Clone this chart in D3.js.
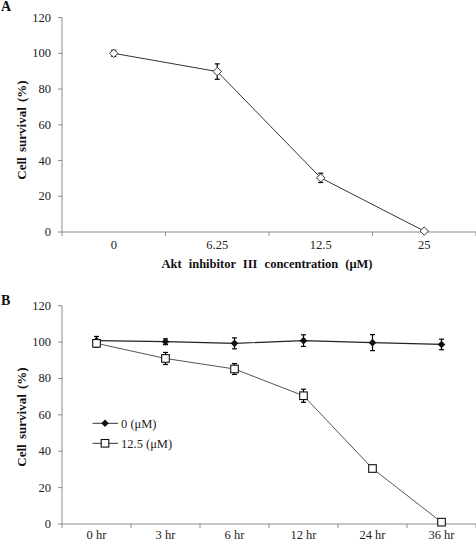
<!DOCTYPE html>
<html><head><meta charset="utf-8">
<script src="https://cdn.jsdelivr.net/npm/d3@7"></script>
<style>
html,body{margin:0;padding:0;background:#fff;}
svg{display:block;font-family:"Liberation Serif","Times New Roman",serif;}
</style></head>
<body><svg id="c" width="476" height="542"></svg>
<script>
// Panel A data
const concentrations = ["0", "6.25", "12.5", "25"];
const survivalA = [100, 89.8, 30.3, 0.5];
const errorA = [1.7, 4.3, 2.6, 0];
// Panel B data
const hours = ["0 hr", "3 hr", "6 hr", "12 hr", "24 hr", "36 hr"];
const control = [100.8, 100.2, 99.3, 100.8, 99.7, 98.7];
const controlErr = [2.3, 1.6, 3, 3.2, 4.4, 2.9];
const treated = [99.3, 91, 85.2, 70.5, 30.5, 1];
const treatedErr = [2, 3.3, 3, 3.6, 1.5, 0];
const yTicks = [0, 20, 40, 60, 80, 100, 120];
const legendLabels = ["0 (\u03bcM)", "12.5 (\u03bcM)"];

const svg = d3.select("#c");
const axisCol = "#8c8c8c", textCol = "#222";

// square diamond (equal width/height) symbol
function diamondPath(r) {
  const p = d3.path();
  p.moveTo(0, -r); p.lineTo(r, 0); p.lineTo(0, r); p.lineTo(-r, 0); p.closePath();
  return p.toString();
}

function drawAxes(g, x, y, cats, tickY) {
  const [x0, x1] = x.range();
  const [yb, yt] = y.range();
  g.append("line").attr("x1", x0).attr("x2", x0).attr("y1", yt).attr("y2", yb)
    .attr("stroke", axisCol).attr("stroke-width", 1);
  yTicks.forEach(t => {
    g.append("line").attr("x1", x0 - 4).attr("x2", x0).attr("y1", y(t)).attr("y2", y(t))
      .attr("stroke", axisCol);
    g.append("text").attr("x", x0 - 11).attr("y", y(t) + 4).attr("text-anchor", "end")
      .attr("font-size", 12.5).attr("fill", textCol).text(t);
  });
  g.append("line").attr("x1", x0).attr("x2", x1).attr("y1", yb).attr("y2", yb)
    .attr("stroke", axisCol);
  const bounds = cats.map(c => x(c)).concat([x1]);
  bounds.forEach(b => {
    g.append("line").attr("x1", b).attr("x2", b).attr("y1", yb).attr("y2", yb + 4)
      .attr("stroke", axisCol);
  });
  cats.forEach(c => {
    g.append("text").attr("x", x(c) + x.bandwidth() / 2).attr("y", tickY)
      .attr("text-anchor", "middle").attr("font-size", 12.5).attr("fill", textCol).text(c);
  });
}

function errorBars(g, x, y, cats, vals, errs) {
  cats.forEach((c, i) => {
    if (!errs[i]) return;
    const cx = x(c) + x.bandwidth() / 2;
    const t = y(vals[i] + errs[i]), b = y(vals[i] - errs[i]);
    g.append("line").attr("x1", cx).attr("x2", cx).attr("y1", t).attr("y2", b)
      .attr("stroke", "#000").attr("stroke-width", 1.2);
    [t, b].forEach(v => g.append("line").attr("x1", cx - 2.5).attr("x2", cx + 2.5)
      .attr("y1", v).attr("y2", v).attr("stroke", "#000").attr("stroke-width", 1.2));
  });
}

// ---------- Panel A ----------
const gA = svg.append("g");
const xA = d3.scaleBand().domain(concentrations).range([62, 476]).padding(0);
const yA = d3.scaleLinear().domain([0, 120]).range([232, 17.6]);
drawAxes(gA, xA, yA, concentrations, 249);
const cxA = c => xA(c) + xA.bandwidth() / 2;
gA.append("path")
  .datum(concentrations.map((c, i) => [cxA(c), yA(survivalA[i])]))
  .attr("d", d3.line()).attr("fill", "none").attr("stroke", "#333").attr("stroke-width", 1);
errorBars(gA, xA, yA, concentrations, survivalA, errorA);
concentrations.forEach((c, i) => {
  gA.append("path").attr("d", diamondPath(4.2))
    .attr("transform", `translate(${cxA(c)},${yA(survivalA[i])})`)
    .attr("fill", "#fff").attr("stroke", "#333").attr("stroke-width", 1);
});
gA.append("text").attr("transform", "translate(26,130) rotate(-90)")
  .attr("text-anchor", "middle").attr("font-size", 13).attr("font-weight", "bold")
  .attr("word-spacing", 2).attr("fill", "#111").text("Cell survival (%)");
gA.append("text").attr("x", 267).attr("y", 268).attr("text-anchor", "middle")
  .attr("font-size", 12.5).attr("font-weight", "bold").attr("word-spacing", 4)
  .attr("fill", "#111").text("Akt inhibitor III concentration (\u03bcM)");
svg.append("text").attr("x", 1).attr("y", 11).attr("font-size", 14)
  .attr("font-weight", "bold").attr("fill", "#111").text("A");

// ---------- Panel B ----------
const gB = svg.append("g");
const xB = d3.scaleBand().domain(hours).range([62, 476]).padding(0);
const yB = d3.scaleLinear().domain([0, 120]).range([524, 305.7]);
drawAxes(gB, xB, yB, hours, 539);
const cxB = c => xB(c) + xB.bandwidth() / 2;
gB.append("path")
  .datum(hours.map((c, i) => [cxB(c), yB(control[i])]))
  .attr("d", d3.line()).attr("fill", "none").attr("stroke", "#222").attr("stroke-width", 1.2);
gB.append("path")
  .datum(hours.map((c, i) => [cxB(c), yB(treated[i])]))
  .attr("d", d3.line()).attr("fill", "none").attr("stroke", "#555").attr("stroke-width", 1);
errorBars(gB, xB, yB, hours, control, controlErr);
errorBars(gB, xB, yB, hours, treated, treatedErr);
hours.forEach((c, i) => {
  gB.append("path").attr("d", diamondPath(3.8))
    .attr("transform", `translate(${cxB(c)},${yB(control[i])})`).attr("fill", "#111");
});
hours.forEach((c, i) => {
  gB.append("rect").attr("x", cxB(c) - 3.8).attr("y", yB(treated[i]) - 3.8)
    .attr("width", 7.6).attr("height", 7.6).attr("fill", "#fff")
    .attr("stroke", "#111").attr("stroke-width", 1.1);
});
// legend
const legY = [423.3, 443.3];
legY.forEach((ly, i) => {
  gB.append("line").attr("x1", 92.5).attr("x2", 118).attr("y1", ly).attr("y2", ly)
    .attr("stroke", "#333").attr("stroke-width", 1);
  if (i === 0) {
    gB.append("path").attr("d", diamondPath(3.8)).attr("transform", `translate(105,${ly})`)
      .attr("fill", "#111");
  } else {
    gB.append("rect").attr("x", 105 - 3.8).attr("y", ly - 3.8).attr("width", 7.6).attr("height", 7.6)
      .attr("fill", "#fff").attr("stroke", "#111").attr("stroke-width", 1.1);
  }
  gB.append("text").attr("x", 121).attr("y", ly + 4.5).attr("font-size", 12.5)
    .attr("fill", textCol).text(legendLabels[i]);
});
gB.append("text").attr("transform", "translate(26,417) rotate(-90)")
  .attr("text-anchor", "middle").attr("font-size", 13).attr("font-weight", "bold")
  .attr("word-spacing", 2).attr("fill", "#111").text("Cell survival (%)");
svg.append("text").attr("x", 1).attr("y", 305).attr("font-size", 14)
  .attr("font-weight", "bold").attr("fill", "#111").text("B");
</script></body></html>
